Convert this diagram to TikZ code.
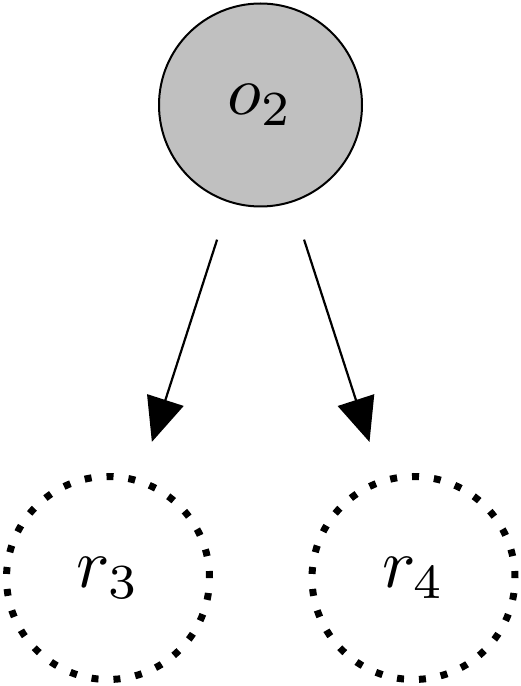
\documentclass[tikz,border=0pt]{standalone}
\usepackage{graphicx}
\usetikzlibrary{arrows.meta}
\definecolor{nodegray}{RGB}{192,192,192}
\newcommand{\bigmath}[1]{\scalebox{7}{$#1$}}
\begin{document}
\begin{tikzpicture}[x=1pt,y=1pt,
  obsnode/.style={circle,draw=black,fill=nodegray,line width=2pt,minimum size=203pt,inner sep=0pt},
  latnode/.style={circle,draw=black,line width=7pt,dash pattern=on 7pt off 14.99pt,minimum size=203pt,inner sep=0pt},
  edge/.style={line width=2.2pt,-{Triangle[length=44pt,width=38pt]},shorten <=39pt,shorten >=38pt}]
\useasboundingbox (0,0) rectangle (521,686);
\node[obsnode] (o2) at (260.5,581) {\bigmath{o_2}};
\node[latnode] (r3) at (108,108) {\bigmath{r_3}};
\node[latnode] (r4) at (413.5,108) {\bigmath{r_4}};
\draw[edge] (o2) -- (r3);
\draw[edge] (o2) -- (r4);
\end{tikzpicture}
\end{document}
